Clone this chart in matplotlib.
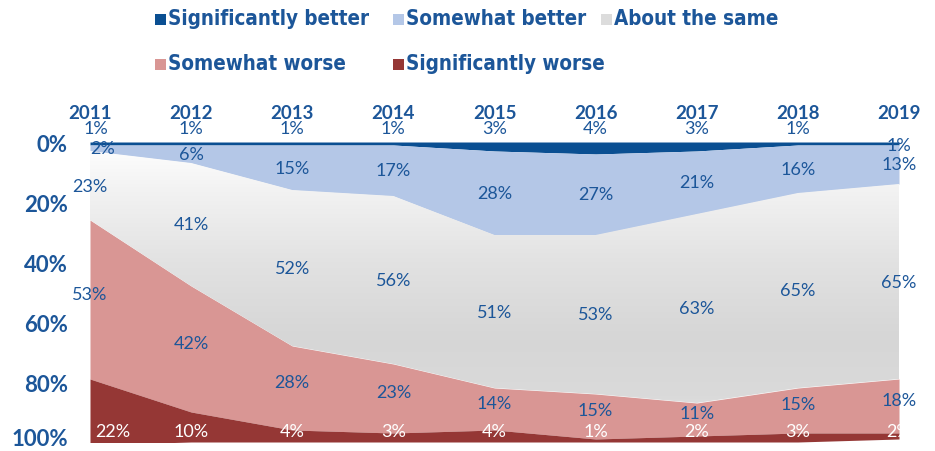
import matplotlib
matplotlib.use("Agg")
import matplotlib.pyplot as plt
import numpy as np
from matplotlib.colors import LinearSegmentedColormap
from matplotlib.patches import Rectangle
from matplotlib.transforms import ScaledTranslation

years = [2011, 2012, 2013, 2014, 2015, 2016, 2017, 2018, 2019]
series_names = ["Significantly better", "Somewhat better", "About the same",
                "Somewhat worse", "Significantly worse"]
sig_better = [1, 1, 1, 1, 3, 4, 3, 1, 1]
some_better = [2, 6, 15, 17, 28, 27, 21, 16, 13]
same = [23, 41, 52, 56, 51, 53, 63, 65, 65]
some_worse = [53, 42, 28, 23, 14, 15, 11, 15, 18]
sig_worse = [22, 10, 4, 3, 4, 1, 2, 3, 2]

colors = ["#0a4f92", "#b4c7e7", "#dcdcdc", "#d99694", "#953735"]
text_blue = "#1c5699"

W, H = 935, 452
fig = plt.figure(figsize=(W / 100, H / 100), dpi=100)
ax = fig.add_axes([90 / W, 1 - 443 / H, (899 - 90) / W, 300 / H])

x = np.array(years)
stack = np.array([sig_better, some_better, same, some_worse, sig_worse], dtype=float)
tops = np.vstack([np.zeros(len(years)), np.cumsum(stack, axis=0)[:-1]])
bottoms = np.cumsum(stack, axis=0)

polys = []
for i in range(len(series_names)):
    p = ax.fill_between(x, tops[i], bottoms[i], color=colors[i], lw=0, zorder=2)
    polys.append(p)

# vertical grey shading inside the "about the same" band
grey = LinearSegmentedColormap.from_list(
    "grey", [(0.0, "#ffffff"), (0.15, "#f3f3f3"), (0.4, "#e2e2e2"),
             (0.65, "#d6d6d6"), (0.85, "#dadada"), (1.0, "#ececec")])
grad = np.linspace(0, 1, 256).reshape(-1, 1)
img = ax.imshow(grad, cmap=grey, aspect="auto", extent=[2011, 2019, 100, 0],
                origin="upper", zorder=2.5, interpolation="bilinear")
polys[2].set_visible(False)
img.set_clip_path(polys[2].get_paths()[0], transform=ax.transData)

# value labels
label_font = dict(family=["Lato", "DejaVu Sans"], fontsize=13)
for j, yr in enumerate(years):
    top_y = 1 if yr == years[-1] else -4.5
    dx = 0.06 if j == 0 else 0
    ax.text(yr + dx, top_y, f"{sig_better[j]}%", color=text_blue, ha="center",
            va="center", zorder=5, clip_on=False, **label_font)
    for i in (1, 2, 3):
        mid = (tops[i][j] + bottoms[i][j]) / 2
        if i == 3:
            mid -= 2
        dx = 0.12 if (j == 0 and i == 1) else 0
        ax.text(yr + dx, mid, f"{stack[i][j]:.0f}%", color=text_blue, ha="center",
                va="center", zorder=5, clip_on=False, **label_font)
    dx = 0.23 if j == 0 else 0
    ax.text(yr + dx, 96.5, f"{sig_worse[j]}%", color="white", ha="center", va="center",
            zorder=5, clip_on=False, **label_font)

ax.set_xlim(2011, 2019)
ax.set_ylim(100, 0)
ax.xaxis.tick_top()
ax.set_xticks(years)
ax.set_xticklabels([str(y) for y in years])
ax.set_yticks([0, 20, 40, 60, 80, 100])
ax.set_yticklabels([f"{v}%" for v in [0, 20, 40, 60, 80, 100]])
ax.tick_params(axis="x", length=0, pad=15, labelsize=13.5, labelcolor=text_blue)
ax.tick_params(axis="y", length=0, pad=16, labelsize=16, labelcolor=text_blue)
for lab in ax.get_xticklabels() + ax.get_yticklabels():
    lab.set_fontweight("bold")
    lab.set_family(["Lato", "DejaVu Sans"])
# keep the bottom "100%" inside the canvas
bottom_lab = ax.get_yticklabels()[-1]
bottom_lab.set_transform(bottom_lab.get_transform()
                         + ScaledTranslation(0, 5 / 100, fig.dpi_scale_trans))
for s in ax.spines.values():
    s.set_visible(False)

# legend in two rows
legend_pos = [(155, 19), (393, 19), (601, 19), (155, 64), (393, 64)]
for name, col, (lx, ly) in zip(series_names, colors, legend_pos):
    sq = 11
    legend_col = "#dcdcdc" if name == "About the same" else col
    fig.patches.append(Rectangle((lx / W, 1 - (ly + sq / 2 + 1) / H), sq / W, sq / H,
                                 transform=fig.transFigure, color=legend_col, lw=0))
    fig.text((lx + 13) / W, 1 - ly / H, name, color=text_blue, fontsize=14.8,
             fontweight="bold", va="center", ha="left", fontstretch="condensed",
             family=["DejaVu Sans"])

fig.savefig("out.png", dpi=100)
